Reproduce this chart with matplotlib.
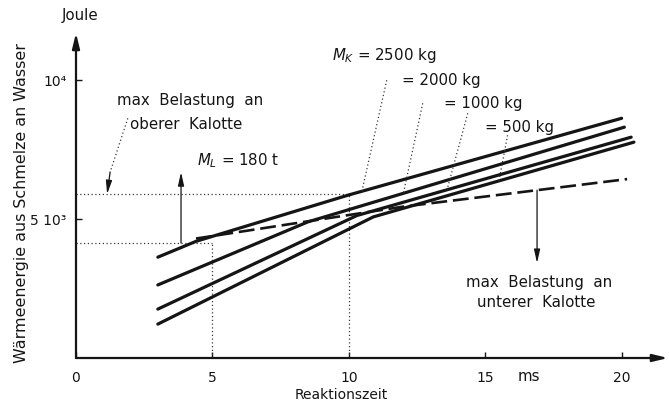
import numpy as np
import matplotlib.pyplot as plt

plt.rcParams['font.family'] = ['DejaVu Sans']

# --- data -----------------------------------------------------------------
mass_labels = ["$M_K$ = 2500 kg", "= 2000 kg", "= 1000 kg", "= 500 kg"]

# reaction time [ms] and heat energy [J] of the four melt-mass curves
t_2500 = [3.0, 4.4, 10.0, 20.0]
e_2500 = [3630, 4200, 5870, 8630]
t_2000 = [3.0, 8.5, 20.1]
e_2000 = [2630, 4900, 8310]
t_1000 = [3.0, 10.3, 20.35]
e_1000 = [1760, 5130, 7950]
t_500 = [3.0, 10.9, 20.45]
e_500 = [1220, 5080, 7770]

# limit for the lower calotte (dashed)
t_lower = [4.4, 12.0, 20.2]
e_lower = [4300, 5450, 6440]

# read-off guides: (time, energy)
guide_low = (5.0, 4140)
guide_high = (10.0, 5900)

# M_L = 180 t arrow
t_ml = 3.85
e_ml_top = 6690

x_ticks = [0, 5, 10, 15, 20]
x_ticklabels = ["0", "5", "10", "15", "20"]
y_ticks = [5000, 10000]
y_ticklabels = ["5 10³", "10⁴"]

t_max, e_max = 21.7, 11700

# --- figure ---------------------------------------------------------------
W, H = 669, 412
fig = plt.figure(figsize=(W / 100, H / 100), dpi=100)
ax = fig.add_axes([76 / W, 54 / H, 592 / W, 325 / H])
ax.set_xlim(0, t_max)
ax.set_ylim(0, e_max)
for s in ax.spines.values():
    s.set_visible(False)

ink = '#151515'
fs = 10.8

# axes with arrow heads
arrow_kw = dict(arrowstyle='-|>,head_length=0.9,head_width=0.22', lw=1.6,
                color=ink, shrinkA=0, shrinkB=0)
ax.annotate('', xy=(t_max, 0), xytext=(0, 0), arrowprops=arrow_kw,
            annotation_clip=False)
ax.annotate('', xy=(0, e_max), xytext=(0, 0), arrowprops=arrow_kw,
            annotation_clip=False)

ax.set_xticks(x_ticks, x_ticklabels)
ax.set_yticks(y_ticks, y_ticklabels)
ax.tick_params(axis='x', direction='in', length=4, width=1, color=ink,
               pad=9, labelsize=10, labelcolor=ink)
ax.tick_params(axis='y', direction='in', length=4, width=1, color=ink,
               pad=7, labelsize=10, labelcolor=ink)

# dotted read-off guides
dot_kw = dict(color='#3a3a3a', lw=0.9, ls=(0, (1, 2)), clip_on=False)
for tg, eg in (guide_low, guide_high):
    ax.plot([0, tg], [eg, eg], **dot_kw)
    ax.plot([tg, tg], [0, eg], **dot_kw)

# curves for the four melt masses
curves = [(t_2500, e_2500), (t_2000, e_2000), (t_1000, e_1000), (t_500, e_500)]
for tc, ec in curves:
    ax.plot(tc, ec, color=ink, lw=2.3, solid_capstyle='round',
            solid_joinstyle='round')

# lower calotte limit
ax.plot(t_lower, e_lower, color=ink, lw=1.9, dashes=(6, 2.2))

# M_L arrow
ax.annotate('', xy=(t_ml, e_ml_top), xytext=(t_ml, guide_low[1]),
            arrowprops=dict(arrowstyle='-|>,head_length=0.8,head_width=0.18',
                            lw=0.9, color=ink, shrinkA=0, shrinkB=0))
ax.text(4.43, 7120, "$M_L$ = 180 t", fontsize=fs, color=ink, va='center')

# upper calotte label with leader
ax.text(1.5, 9280, "max  Belastung  an", fontsize=fs, color=ink, va='center')
ax.text(1.98, 8420, "oberer  Kalotte", fontsize=fs, color=ink, va='center')
ax.plot([1.9, 1.25], [8630, 6690], **dot_kw)
ax.annotate('', xy=(1.14, guide_high[1]), xytext=(1.25, 6690),
            arrowprops=dict(arrowstyle='-|>,head_length=0.8,head_width=0.18',
                            lw=0.9, color=ink, shrinkA=0, shrinkB=0))

# lower calotte label with arrow from the dashed line
t_arr = 16.9
e_arr = np.interp(t_arr, t_lower, e_lower)
ax.annotate('', xy=(t_arr, 3420), xytext=(t_arr, e_arr),
            arrowprops=dict(arrowstyle='-|>,head_length=0.8,head_width=0.18',
                            lw=0.9, color=ink, shrinkA=0, shrinkB=0))
ax.text(14.3, 2730, "max  Belastung  an", fontsize=fs, color=ink, va='center')
ax.text(14.7, 2010, "unterer  Kalotte", fontsize=fs, color=ink, va='center')

# mass labels with leaders down to their curves
label_pos = [(9.38, 10900), (11.94, 10000), (13.5, 9170), (14.98, 8310)]
leader_start = [(11.39, 10000), (12.71, 9170), (14.36, 8810), (15.82, 8020)]
leader_end_t = [10.48, 12.0, 13.6, 15.5]
for lab, (tx, ey), (ts, es), te, (tc, ec) in zip(mass_labels, label_pos,
                                                 leader_start, leader_end_t,
                                                 curves):
    ax.text(tx, ey, lab, fontsize=fs, color=ink, va='center')
    ax.plot([ts, te], [es, np.interp(te, tc, ec)], **dot_kw)

# axis texts
ax.text(0.15, 12340, "Joule", fontsize=fs, color=ink, ha='center',
        va='center', clip_on=False)
ax.text(16.6, -650, "ms", fontsize=fs, color=ink, ha='center', va='center',
        clip_on=False)
ax.text(9.74, -1330, "Reaktionszeit", fontsize=10, color=ink, ha='center',
        va='center', clip_on=False)
ax.text(-2.0, 5575, "Wärmeenergie aus Schmelze an Wasser", fontsize=11.4,
        color=ink, rotation=90, ha='center', va='center', clip_on=False)

fig.savefig("out.png", dpi=100)
